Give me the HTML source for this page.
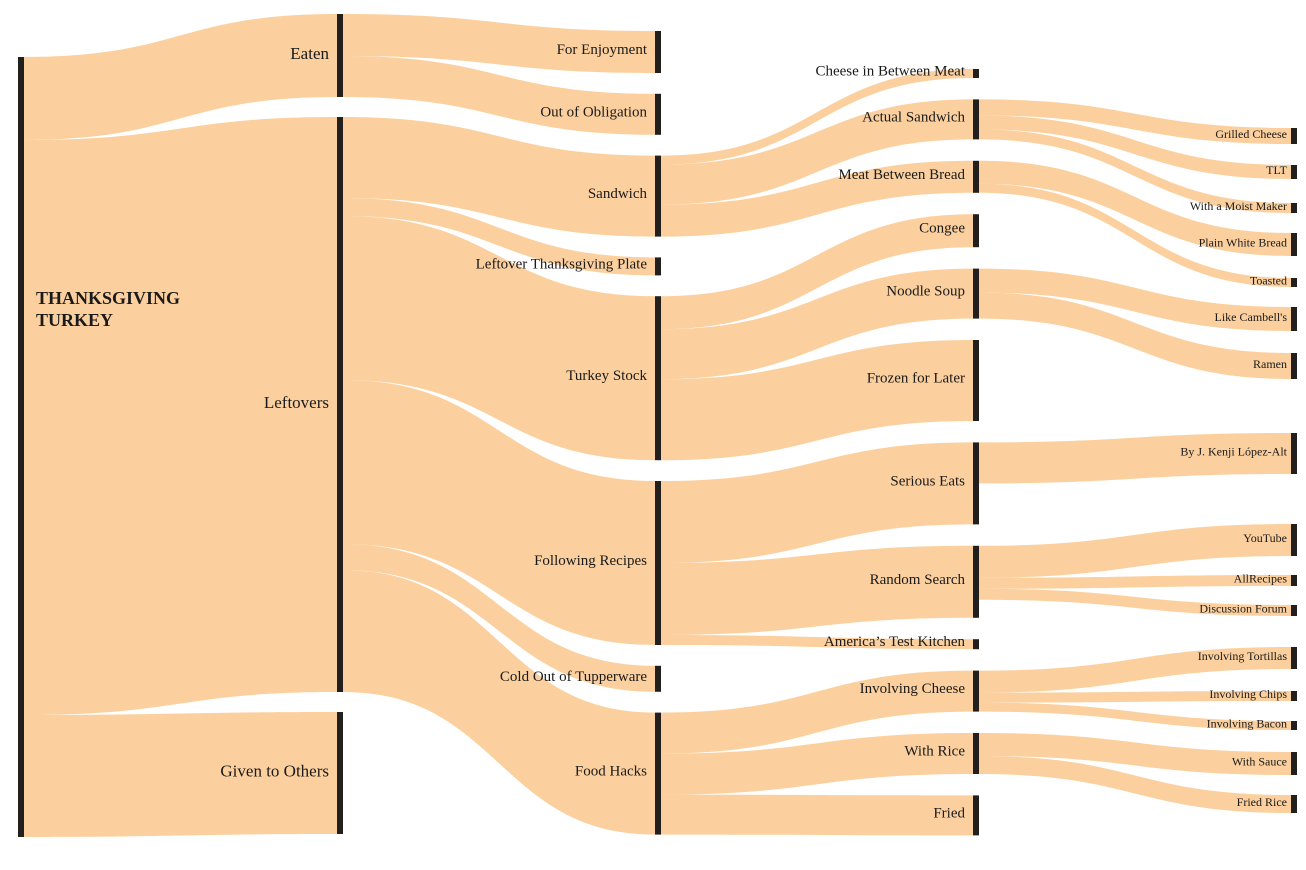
<!DOCTYPE html>
<html><head><meta charset="utf-8">
<style>
html,body{margin:0;padding:0;background:#fff;}
svg{display:block;}
text{font-family:"Liberation Serif","DejaVu Serif",serif;fill:#1a1a1a;}
</style></head>
<body>
<svg id="chart" width="1306" height="870" viewBox="0 0 1306 870" xmlns="http://www.w3.org/2000/svg">
<g id="links"></g>
<g id="nodes"></g>
<g id="labels"></g>
</svg>
<script>
// ---- data ----
const nodeNames = ["Thanksgiving Turkey","Eaten","Leftovers","Given to Others","For Enjoyment","Out of Obligation","Sandwich","Leftover Thanksgiving Plate","Turkey Stock","Following Recipes","Cold Out of Tupperware","Food Hacks","Cheese in Between Meat","Actual Sandwich","Meat Between Bread","Congee","Noodle Soup","Frozen for Later","Serious Eats","Random Search","America’s Test Kitchen","Involving Cheese","With Rice","Fried","Grilled Cheese","TLT","With a Moist Maker","Plain White Bread","Toasted","Like Cambell's","Ramen","By J. Kenji López-Alt","YouTube","AllRecipes","Discussion Forum","Involving Tortillas","Involving Chips","Involving Bacon","With Sauce","Fried Rice"];
const nodeColumns = [0,1,1,1,2,2,2,2,2,2,2,2,3,3,3,3,3,3,3,3,3,3,3,3,4,4,4,4,4,4,4,4,4,4,4,4,4,4,4,4];
const linkSources = ["Thanksgiving Turkey","Thanksgiving Turkey","Thanksgiving Turkey","Eaten","Eaten","Leftovers","Leftovers","Leftovers","Leftovers","Leftovers","Leftovers","Sandwich","Sandwich","Sandwich","Turkey Stock","Turkey Stock","Turkey Stock","Following Recipes","Following Recipes","Following Recipes","Food Hacks","Food Hacks","Food Hacks","Actual Sandwich","Actual Sandwich","Actual Sandwich","Meat Between Bread","Meat Between Bread","Noodle Soup","Noodle Soup","Serious Eats","Random Search","Random Search","Random Search","Involving Cheese","Involving Cheese","Involving Cheese","With Rice","With Rice"];
const linkTargets = ["Eaten","Leftovers","Given to Others","For Enjoyment","Out of Obligation","Sandwich","Leftover Thanksgiving Plate","Turkey Stock","Following Recipes","Cold Out of Tupperware","Food Hacks","Cheese in Between Meat","Actual Sandwich","Meat Between Bread","Congee","Noodle Soup","Frozen for Later","Serious Eats","Random Search","America’s Test Kitchen","Involving Cheese","With Rice","Fried","Grilled Cheese","TLT","With a Moist Maker","Plain White Bread","Toasted","Like Cambell's","Ramen","By J. Kenji López-Alt","YouTube","AllRecipes","Discussion Forum","Involving Tortillas","Involving Chips","Involving Bacon","With Sauce","Fried Rice"];
const linkValues = [83,575,122,42,41,81,18,164,164,26,122,9,40,32,33,50,81,82,72,10,41,41,40,16,14,10,23,9,24,26,41,32,11,11,22,10,9,23,18];

// ---- layout (not data) ----
const colX = [18,337,655,973,1291];
const nodeW = 6;
const colStart = [57,14,31,69,null];
const colGap = [20,20,20.8,21.4,20];
const col4Tops = [128,165,203,233,278,307,353,433,524,575,605,647,691,721,752,795];

const N = nodeNames.length;
const idx = n => nodeNames.indexOf(n);
const inV = new Array(N).fill(0), outV = new Array(N).fill(0);
linkValues.forEach((v,i)=>{ outV[idx(linkSources[i])]+=v; inV[idx(linkTargets[i])]+=v; });
const val = nodeNames.map((_,i)=>Math.max(inV[i],outV[i]));
const ny = new Array(N), nh = val.slice();
const cursor = colStart.slice(); let c4 = 0;
for(let i=0;i<N;i++){
  const c = nodeColumns[i];
  if(c===4){ ny[i]=col4Tops[c4++]; }
  else { ny[i]=cursor[c]; cursor[c]+=nh[i]+colGap[c]; }
}
const NS="http://www.w3.org/2000/svg";
const gL=document.getElementById('links'), gN=document.getElementById('nodes'), gT=document.getElementById('labels');
const sOff=new Array(N).fill(0), tOff=new Array(N).fill(0);
linkValues.forEach((v,i)=>{
  const s=idx(linkSources[i]), t=idx(linkTargets[i]);
  const x0=colX[nodeColumns[s]]+nodeW, x1=colX[nodeColumns[t]];
  const y0=ny[s]+sOff[s], y1=ny[t]+tOff[t];
  sOff[s]+=v; tOff[t]+=v;
  const xm=(x0+x1)/2;
  const p=document.createElementNS(NS,'path');
  p.setAttribute('d',`M${x0},${y0}C${xm},${y0} ${xm},${y1} ${x1},${y1}L${x1},${y1+v}C${xm},${y1+v} ${xm},${y0+v} ${x0},${y0+v}Z`);
  p.setAttribute('fill','#f9b05e');
  p.setAttribute('fill-opacity','0.6');
  
  
  gL.appendChild(p);
});
for(let i=0;i<N;i++){
  const c=nodeColumns[i];
  const r=document.createElementNS(NS,'rect');
  r.setAttribute('x',colX[c]); r.setAttribute('y',ny[i]);
  r.setAttribute('width',nodeW); r.setAttribute('height',nh[i]);
  r.setAttribute('fill','#231f1c');
  
  
  gN.appendChild(r);
  const cy=ny[i]+nh[i]/2;
  if(c===0){
    ['THANKSGIVING','TURKEY'].forEach((w,k)=>{
      const t=document.createElementNS(NS,'text');
      t.setAttribute('x',36); t.setAttribute('y',304+k*22);
      t.setAttribute('font-size','18'); t.setAttribute('font-weight','bold');
      t.textContent=w;
      
      
      gT.appendChild(t);
    });
  } else {
    const t=document.createElementNS(NS,'text');
    t.setAttribute('x',colX[c]-(c===4?4:8)); t.setAttribute('y',cy-2);
    t.setAttribute('text-anchor','end'); t.setAttribute('dominant-baseline','central');
    t.setAttribute('font-size',c===4?'12':(c===1?'17':'15'));
    t.textContent=nodeNames[i];
    
    
    gT.appendChild(t);
  }
}
</script>
</body></html>
